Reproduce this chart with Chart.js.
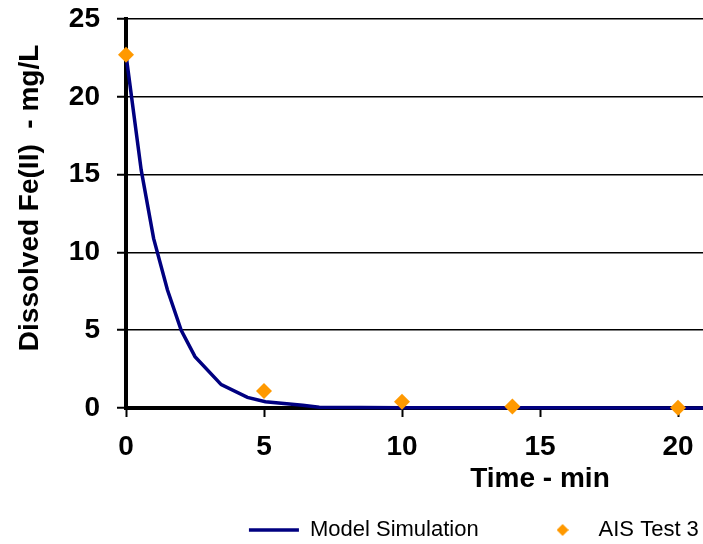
<!DOCTYPE html>
<html>
<head>
<meta charset="utf-8">
<script src="https://cdn.jsdelivr.net/npm/chart.js@4.4.0/dist/chart.umd.min.js"></script>
<style>
  html, body { margin: 0; padding: 0; background: #fff; overflow: hidden; }
  /* the reference is cropped on the right, so the chart is wider than the window */
  #wrap { position: relative; width: 962px; height: 551px; }
</style>
</head>
<body>
<div id="wrap"><canvas id="myChart"></canvas></div>
<script>
// model simulation (min, mg/L)
var simTime = [0, 0.55, 1, 1.5, 2, 2.5, 3.45, 4.4, 5.05, 6.4, 7, 10, 15, 20, 25, 30];
var simFe = [22.7, 15.3, 10.9, 7.6, 5.0, 3.3, 1.5, 0.68, 0.4, 0.18, 0.05, 0.02, 0.01, 0, 0, 0];

// AIS Test 3 measurements
var testTime = [0, 5, 10, 14, 20];
var testFe = [22.7, 1.1, 0.4, 0.1, 0.02];

var seriesNames = ['Model Simulation', 'AIS Test 3'];
var xMin = 0, xMax = 30, xStep = 5;
var yMin = 0, yMax = 25, yStep = 5;

var FONT = "'Liberation Sans', Arial, sans-serif";
var ORANGE = '#FF9900';
var NAVY = '#000080';

function toPoints(xs, ys) {
    return xs.map(function (x, i) { return { x: x, y: ys[i] }; });
}

// small diamond used as the legend marker
function legendDiamond() {
    var c = document.createElement('canvas');
    c.width = 12; c.height = 12;
    var g = c.getContext('2d');
    g.fillStyle = ORANGE;
    g.beginPath();
    g.moveTo(6, 0); g.lineTo(12, 6); g.lineTo(6, 12); g.lineTo(0, 6);
    g.closePath();
    g.fill();
    return c;
}
var diamondIcon = legendDiamond();

var ctx = document.getElementById('myChart').getContext('2d');
var chart = new Chart(ctx, {
    type: 'line',
    data: {
        datasets: [{
            type: 'scatter',
            label: seriesNames[1],
            data: toPoints(testTime, testFe),
            backgroundColor: ORANGE,
            borderColor: ORANGE,
            pointStyle: 'rectRot',
            pointRadius: 8,
            pointHoverRadius: 8,
            borderWidth: 0,
            clip: false,
            order: 0
        }, {
            label: seriesNames[0],
            data: toPoints(simTime, simFe),
            borderColor: NAVY,
            backgroundColor: NAVY,
            borderWidth: 3.5,
            pointRadius: 0,
            pointStyle: 'line',
            tension: 0,
            fill: false,
            clip: false,
            order: 1
        }]
    },
    options: {
        responsive: true,
        maintainAspectRatio: false,
        animation: false,
        layout: { padding: { top: 19, left: 0, right: 2, bottom: 0 } },
        plugins: {
            tooltip: { enabled: false },
            legend: {
                position: 'bottom',
                labels: {
                    color: '#000',
                    font: { family: FONT, size: 22 },
                    usePointStyle: true,
                    pointStyleWidth: 50,
                    padding: 10,
                    generateLabels: function (chart) {
                        var items = Chart.defaults.plugins.legend.labels.generateLabels(chart);
                        items.sort(function (a, b) { return b.datasetIndex - a.datasetIndex; });
                        items.forEach(function (it) {
                            // trailing spaces give the wide gap between the two entries
                            if (it.datasetIndex === 1) {
                                it.text = it.text + '        ';
                            } else {
                                it.text = it.text + '  ';
                                it.pointStyle = diamondIcon;
                            }
                        });
                        return items;
                    }
                }
            }
        },
        scales: {
            x: {
                type: 'linear',
                min: xMin,
                max: xMax,
                ticks: {
                    stepSize: xStep,
                    color: '#000',
                    padding: 13,
                    font: { family: FONT, size: 28, weight: 'bold' }
                },
                grid: {
                    drawOnChartArea: false,
                    drawTicks: true,
                    tickLength: 9,
                    tickColor: '#000',
                    tickWidth: 2
                },
                border: { display: true, color: '#000', width: 4 },
                title: {
                    display: true,
                    text: 'Time - min',
                    color: '#000',
                    font: { family: FONT, size: 28, weight: 'bold' },
                    padding: { top: 0, bottom: 13 }
                },
                afterFit: function (s) {
                    s.height = 101;
                    s.paddingLeft = 0;
                    s.paddingRight = 0;
                }
            },
            y: {
                min: yMin,
                max: yMax,
                ticks: {
                    stepSize: yStep,
                    color: '#000',
                    padding: 17,
                    font: { family: FONT, size: 28, weight: 'bold' }
                },
                grid: {
                    color: '#000',
                    lineWidth: 1.5,
                    drawTicks: true,
                    tickLength: 9,
                    tickColor: '#000',
                    tickWidth: 2
                },
                border: { display: true, color: '#000', width: 4 },
                title: {
                    display: true,
                    text: '    Dissolved Fe(II)  - mg/L',
                    color: '#000',
                    font: { family: FONT, size: 28, weight: 'bold' },
                    padding: { top: 13, bottom: 0 }
                },
                afterFit: function (s) {
                    s.width = 126;
                    s.paddingTop = 0;
                    s.paddingBottom = 0;
                }
            }
        }
    }
});
</script>
</body>
</html>
